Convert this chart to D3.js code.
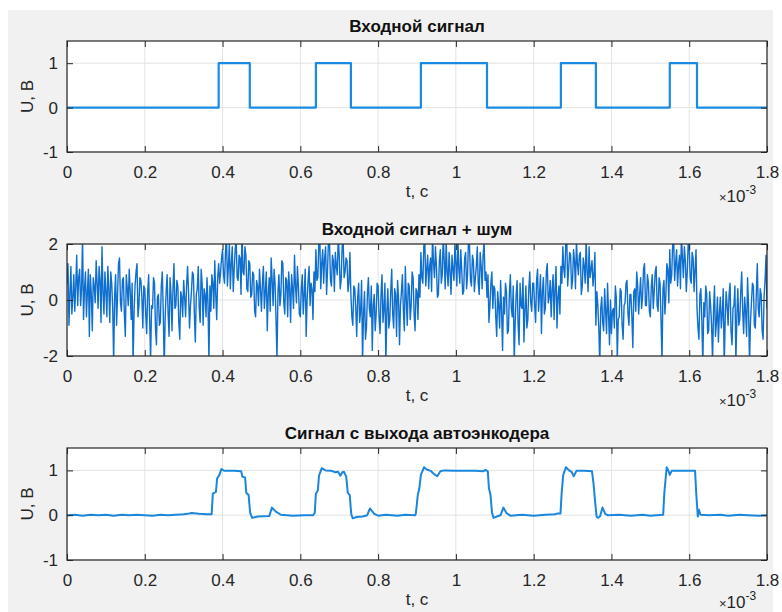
<!DOCTYPE html>
<html>
<head>
<meta charset="utf-8">
<title>Автоэнкодер</title>
<script src="https://cdn.jsdelivr.net/npm/d3@7/dist/d3.min.js"></script>
<style>
  body { margin: 0; background: #fff; }
  svg text { font-family: "Liberation Sans", Arial, sans-serif; }
</style>
</head>
<body>
<script>

var W = 782, H = 612;

// x axis, ms (shown with a x10^-3 multiplier)
var xTicks = [0, 0.2, 0.4, 0.6, 0.8, 1, 1.2, 1.4, 1.6, 1.8];

// input signal: step points
var tIn = [0, 0.39, 0.39, 0.47, 0.47, 0.64, 0.64, 0.73, 0.73, 0.91, 0.91, 1.08, 1.08,
           1.27, 1.27, 1.36, 1.36, 1.55, 1.55, 1.62, 1.62, 1.8];
var uIn = [0, 0, 1, 1, 0, 0, 1, 1, 0, 0, 1, 1, 0, 0, 1, 1, 0, 0, 1, 1, 0, 0];

// input + noise, one sample every 0.0025 ms (values read by eye, 40 per 0.1 ms)
var noiseStep = 0.0025;
var uNoisy = [
  0.6, 1.3, -0.9, 0.2, 1.2, -0.5, 0.1, 0.9, -0.4, 0.5,  1.6, -0.2, 0.8, 1.1, -0.2, 0.4, 2.3, -0.7, 0.4, 1.0,
  -0.6, 0.3, 1.1, -1.3, 0.9, 0.2, -1.1, 0.8, 0.5, -0.1,  1.4, 0.6, -0.3, 1.2, 0.7, -0.8, 1.9, 0.3, -0.5, 1.0,

  0.3, -0.6, 1.2, 0.4, -0.8, 1.0, 0.6, -0.3, -2.2, 0.2,  0.9, -0.9, 0.2, 1.3, 1.5, -0.1, -0.4, 0.7, 0.8, -0.5,
  -1.3, 0.9, 0.4, -0.2, 1.1, 0.3, -0.7, 0.6, -2.3, -0.4,  0.5, 1.0, 1.3, -0.6, -0.2, 0.8, 0.7, 0.1, -1.0, 0.5,

  0.4, -0.5, -1.2, 0.3, 0.9, -0.7, -2.1, -0.2, -0.3, 0.8,  0.6, -1.0, -1.6, 0.1, 0.2, -0.9, -0.8, 0.5, 1.0, -0.4,
  -2.4, -0.6, 0.3, 0.9, -0.5, -1.3, 0.8, 0.2, -1.1, 0.4,  1.3, -0.3, -0.2, 0.7, 0.5, -0.8, -1.4, 0.3, 0.1, -0.6,

  0.7, 0.1, -0.6, 0.5, 1.2, 0.3, -1.0, -0.2, 0.3, 1.0,  0.9, -0.5, -1.5, 0.2, 0.4, 1.2, -0.3, -0.8, 1.1, 0.6,
  -0.9, 0.4, 0.2, -0.6, 0.8, -0.1, -2.2, 0.5, -0.4, 0.9,  0.6, -0.3, 1.4, 0.2, -0.7, 0.8, 1.3, 0.6, 1.0, 1.5,

  1.8, 0.9, 0.6, 1.7, 2.4, 0.5, 1.2, 2.0, 0.4, 1.3,  1.9, 0.3, 1.1, 1.8, 2.2, 0.8, 0.7, 1.6, 1.5, 0.2,
  2.5, 1.0, 0.9, 1.9, 1.6, 0.4, 0.3, 1.4, 1.3, 0.1,  0.2, 1.0, 0.9, -0.4, -0.6, 0.7, 0.5, -0.2, 1.1, 0.4,

  -0.4, 0.6, 1.2, -0.3, 0.3, 1.0, -1.1, 0.2, 0.8, -0.4,  1.5, 0.7, -0.2, 1.1, 0.6, -0.7, -2.1, 0.3, 0.9, -0.2,
  0.2, 1.4, 1.3, -0.1, -0.5, 0.8, 0.7, -0.6, 1.0, 0.4,  -0.8, 0.9, 0.4, -0.3, 1.6, 0.5, -0.1, 1.2, 0.5, -0.5,

  -0.6, 0.4, 0.9, -0.5, 0.2, 1.1, -1.3, 0.0, 0.7, 1.2,  -0.2, 0.6, 0.4, -0.7, 1.0, 0.3, 1.8, 0.7, 0.8, 2.0,
  2.3, 0.4, 1.3, 1.8, 0.6, 1.5, 1.9, 0.2, 1.1, 2.2,  2.1, 0.7, 0.5, 1.6, 1.4, 0.3, 1.7, 1.2, 0.9, 2.3,

  1.6, 0.4, 0.7, 1.9, 2.2, 0.8, 1.0, 1.5, 1.4, 0.3,  0.6, 1.7, 0.2, -0.6, -0.9, 0.5, 0.4, -0.3, -1.3, 0.1,
  0.6, -0.8, -0.4, 0.7, -2.2, -0.5, 0.3, -1.4, -1.0, 0.2,  0.8, -0.3, -0.6, 0.5, -1.8, -0.2, 0.2, -1.1, -0.5, 0.6,

  0.5, -0.6, -1.2, 0.2, 0.9, -0.8, -0.3, 0.6, -2.3, -0.4,  0.4, -1.0, -0.7, 0.3, 1.1, -0.5, -1.0, 0.4, 0.2, -1.3,
  0.7, 0.1, -1.6, -0.2, 0.3, 0.9, -0.4, -1.1, 1.2, 0.0,  -0.9, 0.6, 0.5, -0.7, -0.2, 1.0, 0.8, -0.5, -1.1, 0.4,

  0.3, -0.7, 0.9, 0.1, 1.7, 0.8, 0.6, 1.9, 2.2, 0.5,  1.1, 1.6, 0.4, 1.2, 1.5, 0.3, 2.4, 1.3, 0.8, 1.9,
  1.2, 0.1, 0.2, 1.4, 1.8, 0.6, 0.9, 2.3, 1.4, 0.4,  2.1, 1.0, 0.5, 1.7, 1.0, 0.2, 1.6, 1.1, 0.7, 2.0,

  1.3, 0.5, 2.3, 1.1, 0.6, 1.8, 1.1, 0.2, 0.3, 1.5,  1.7, 0.4, 0.9, 2.2, 2.0, 0.7, 0.5, 1.6, 1.4, 0.3,
  0.8, 1.2, 1.9, 0.6, 0.2, 1.7, 1.2, 0.4, 1.6, 2.1,  0.7, 1.0, 0.1, 0.9, -0.8, -0.2, 0.6, 1.0, -0.3, 0.5,

  0.4, -0.6, -1.3, 0.3, -0.2, -1.0, 0.7, -0.4, -1.8, 0.1,  -0.5, 0.6, 0.3, -1.2, -1.1, 0.2, 0.9, -0.3, -0.6, 0.5,
  -2.2, -0.8, 0.2, 0.7, -0.9, -1.6, 0.6, -0.2, -0.3, 0.8,  -1.5, -0.4, 0.5, -1.0, -0.7, 0.4, 1.0, -0.1, -0.4, 0.6,

  0.6, -0.2, -0.8, 0.7, 1.1, -0.4, 0.2, 0.9, -1.2, 0.3,  0.8, -0.5, -0.3, 1.0, 1.3, -0.1, 0.1, 0.7, -0.6, 0.4,
  0.9, -0.7, 0.4, 1.2, -1.0, 0.1, 0.5, -0.5, 1.2, 0.6,  1.9, 1.1, 0.8, 2.0, 2.3, 0.5, 1.1, 1.7, 1.6, 0.4,

  0.7, 1.8, 1.4, 0.4, 2.1, 1.3, 0.9, 1.6, 1.7, 0.2,  0.5, 1.5, 1.2, 0.6, 2.2, 1.0, 0.3, 1.9, 0.8, 1.1,
  1.4, 0.5, 0.9, 1.7, -0.9, 0.3, -0.2, -1.0, -2.3, -0.3,  0.1, -0.8, -1.1, 0.4, -0.4, -1.2, 0.6, -0.5, -1.6, 0.0,

  -1.2, -0.4, -0.3, -1.0, 0.5, 0.1, -2.1, -0.7, -0.6, 0.4,  0.3, -0.9, -1.4, -0.2, -0.1, 0.6, 0.7, -0.5, -0.9, 0.2,
  0.2, -0.6, -1.7, 0.3, 0.4, -0.4, 1.0, 0.5, -0.5, 0.2,  0.8, -0.3, 0.1, 1.1, 1.3, -0.2, -0.2, 0.9, 0.6, -0.4,

  -0.6, 0.5, 0.9, -0.3, 0.3, 1.0, 1.2, -0.2, -0.4, 0.8,  0.6, -0.7, -2.2, 0.4, 0.7, -0.5, 0.2, 1.3, 1.1, -0.1,
  1.8, 0.6, 0.9, 2.0, 2.2, 0.7, 1.3, 1.8, 0.5, 1.2,  1.6, 0.4, 2.4, 1.5, 0.8, 1.9, 1.4, 0.3, 1.0, 2.1,

  1.9, 0.8, 0.6, 1.7, 1.5, 0.3, 1.1, 1.8, -0.3, -1.0,  -1.4, 0.2, 0.4, -0.8, -2.3, -0.1, -0.6, 0.5, 0.2, -1.2,
  -1.1, 0.3, -0.2, -0.9, -2.2, -0.4, 0.5, -1.3, -0.8, 0.1,  -1.5, -0.5, 0.1, -1.0, -0.5, 0.4, -2.4, -0.7, 0.3, -0.2,

  -0.9, 0.2, 0.6, -1.1, -1.6, -0.3, -0.2, 0.5, -2.2, -0.6,  0.4, -0.9, -0.7, 0.3, 1.0, -0.4, -1.2, 0.1, -0.4, -1.3,
  0.8, -0.2, -2.3, -0.8, -0.1, 0.6, 0.5, -0.9, -1.0, 0.2,  1.3, -0.3, -0.6, 0.4, 0.2, -1.1, -1.4, 0.1, 0.7, 1.6,

  -0.3
];

// autoencoder output
var tOut = [0, 0.02, 0.04, 0.06, 0.08, 0.1, 0.12, 0.14, 0.16, 0.18, 0.2, 0.22, 0.24, 0.26, 0.28,
  0.3, 0.31, 0.32, 0.34, 0.36, 0.372,
  0.375, 0.383, 0.386, 0.392, 0.397, 0.405, 0.43, 0.448, 0.451, 0.458, 0.461, 0.467, 0.471, 0.476,
  0.49, 0.52, 0.527, 0.537, 0.55, 0.58, 0.61, 0.633,
  0.637, 0.64, 0.645, 0.648, 0.655, 0.665, 0.68, 0.69, 0.697, 0.703, 0.708, 0.712, 0.718, 0.722,
  0.727, 0.731, 0.735, 0.745, 0.76, 0.772, 0.779, 0.79, 0.8, 0.82, 0.85, 0.87, 0.895,
  0.897, 0.902, 0.906, 0.91, 0.918, 0.925, 0.935, 0.945, 0.952, 0.96, 0.97, 1.0, 1.05, 1.07,
  1.076, 1.082, 1.085, 1.089, 1.093, 1.097, 1.105, 1.115, 1.122, 1.13, 1.14, 1.17, 1.2, 1.23, 1.255, 1.262,
  1.269, 1.272, 1.276, 1.283, 1.291, 1.298, 1.303, 1.31, 1.33, 1.35, 1.354, 1.358, 1.362, 1.366,
  1.371, 1.377, 1.384, 1.39, 1.42, 1.45, 1.48, 1.5, 1.533,
  1.536, 1.542, 1.547, 1.55, 1.555, 1.58, 1.615, 1.618, 1.622, 1.625, 1.629, 1.65, 1.68, 1.7, 1.73, 1.75, 1.78, 1.8];
var uOut = [0, 0.01, -0.01, 0.01, 0, 0.01, -0.01, 0.01, 0, 0.01, 0, -0.01, 0.01, 0, 0.01,
  0.02, 0.03, 0.05, 0.03, 0.02, 0.02,
  0.48, 0.52, 0.82, 0.9, 1.03, 0.99, 0.99, 0.98, 0.86, 0.84, 0.5, 0.45, 0.05, -0.06,
  -0.03, -0.02, 0.17, 0.08, 0.01, -0.01, 0, 0,
  0.05, 0.48, 0.55, 0.88, 1.05, 1.0, 0.99, 0.96, 0.97, 0.88, 0.96, 0.97, 0.86, 0.5,
  0.45, 0.02, -0.07, -0.04, -0.03, 0, 0.15, 0.03, -0.01, 0.01, -0.01, 0.01, 0,
  0.03, 0.45, 0.6, 0.9, 1.07, 1.02, 0.99, 0.91, 0.87, 0.98, 1.0, 0.99, 0.99, 0.98,
  1.01, 0.98, 0.6, 0.45, 0.05, -0.06, -0.03, 0, 0.17, 0.05, -0.01, 0.01, -0.01, 0.01, 0.02, 0.04,
  0.04, 0.5, 0.9, 1.07, 1.0, 0.96, 0.87, 0.99, 0.99, 0.98, 0.7, 0.3, -0.04, -0.06,
  -0.02, 0.17, 0.03, 0, 0.01, -0.01, 0.01, -0.01, 0.01,
  0.5, 1.07, 0.98, 0.9, 0.99, 0.99, 0.99, 0.5, -0.03, 0.12, 0.01, 0, 0.01, -0.01, 0.01, 0, -0.01, 0];

var tNoisy = uNoisy.map(function(d, i){ return +(i * noiseStep).toFixed(4); });

var panels = [
  {title: "Входной сигнал", top: 41, bottom: 152, yDomain: [-1, 1.5], yTicks: [-1, 0, 1],
   t: tIn, u: uIn, color: "#1a8ae2", width: 2.2},
  {title: "Входной сигнал + шум", top: 244, bottom: 356, yDomain: [-2, 2], yTicks: [-2, 0, 2],
   t: tNoisy, u: uNoisy, color: "#0f6fcf", width: 1.4},
  {title: "Сигнал с выхода автоэнкодера", top: 448, bottom: 560, yDomain: [-1, 1.5], yTicks: [-1, 0, 1],
   t: tOut, u: uOut, color: "#1a86de", width: 2}
];

var left = 67, right = 767;
var fs = 17;

var svg = d3.select("body").append("svg")
  .attr("width", W)
  .attr("height", H);

svg.append("rect")
  .attr("x", 8).attr("y", 10)
  .attr("width", 765).attr("height", H - 10)
  .attr("fill", "#f1f1f1");

var x = d3.scaleLinear().domain([0, 1.8]).range([left, right]);

panels.forEach(function(p, k){
  var y = d3.scaleLinear().domain(p.yDomain).range([p.bottom, p.top]);
  var g = svg.append("g");

  g.append("rect")
    .attr("x", left).attr("y", p.top)
    .attr("width", right - left).attr("height", p.bottom - p.top)
    .attr("fill", "#fff");

  // grid
  g.selectAll(".gx").data(xTicks).enter().append("line")
    .attr("x1", function(d){ return x(d); }).attr("x2", function(d){ return x(d); })
    .attr("y1", p.top).attr("y2", p.bottom)
    .attr("stroke", "#e3e3e3").attr("stroke-width", 1);
  g.selectAll(".gy").data(p.yTicks).enter().append("line")
    .attr("x1", left).attr("x2", right)
    .attr("y1", function(d){ return y(d); }).attr("y2", function(d){ return y(d); })
    .attr("stroke", "#e3e3e3").attr("stroke-width", 1);

  // data line
  var clipId = "clip" + k;
  g.append("clipPath").attr("id", clipId)
    .append("rect")
    .attr("x", left).attr("y", p.top)
    .attr("width", right - left).attr("height", p.bottom - p.top);

  var line = d3.line()
    .x(function(d){ return x(d[0]); })
    .y(function(d){ return y(d[1]); });

  g.append("path")
    .datum(d3.zip(p.t, p.u))
    .attr("clip-path", "url(#" + clipId + ")")
    .attr("d", line)
    .attr("fill", "none")
    .attr("stroke", p.color)
    .attr("stroke-width", p.width)
    .attr("stroke-linejoin", "round");

  // axes, ticks pointing inward, plain hyphen for minus
  var fmt = function(d){ return String(d); };
  var xb = g.append("g").attr("transform", "translate(0," + p.bottom + ")")
    .call(d3.axisBottom(x).tickValues(xTicks).tickSize(-6).tickPadding(14).tickFormat(fmt));
  var xt = g.append("g").attr("transform", "translate(0," + p.top + ")")
    .call(d3.axisTop(x).tickValues(xTicks).tickSize(-6).tickFormat(""));
  var yl = g.append("g").attr("transform", "translate(" + left + ",0)")
    .call(d3.axisLeft(y).tickValues(p.yTicks).tickSize(-6).tickPadding(9).tickFormat(fmt));
  var yr = g.append("g").attr("transform", "translate(" + right + ",0)")
    .call(d3.axisRight(y).tickValues(p.yTicks).tickSize(-6).tickFormat(""));

  [xb, xt, yl, yr].forEach(function(a){
    a.select(".domain").remove();
    a.selectAll(".tick line").attr("stroke", "#262626");
    a.selectAll("text").attr("font-size", fs).attr("fill", "#262626")
      .attr("font-family", "Liberation Sans, Arial, sans-serif");
  });

  g.append("rect")
    .attr("x", left).attr("y", p.top)
    .attr("width", right - left).attr("height", p.bottom - p.top)
    .attr("fill", "none").attr("stroke", "#262626").attr("stroke-width", 1.2);

  // labels
  g.append("text")
    .attr("x", (left + right) / 2).attr("y", p.top - 9)
    .attr("text-anchor", "middle")
    .attr("font-size", fs).attr("font-weight", "bold").attr("fill", "#111")
    .text(p.title);

  g.append("text")
    .attr("x", (left + right) / 2).attr("y", p.bottom + 45)
    .attr("text-anchor", "middle")
    .attr("font-size", fs).attr("fill", "#262626")
    .text("t, c");

  g.append("text")
    .attr("transform", "translate(33," + (p.top + p.bottom) / 2 + ") rotate(-90)")
    .attr("text-anchor", "middle")
    .attr("font-size", fs).attr("fill", "#262626")
    .text("U, B");

  var mult = g.append("text")
    .attr("x", 719).attr("y", Math.min(p.bottom + 50, H - 4))
    .attr("font-size", fs).attr("fill", "#262626");
  mult.append("tspan").attr("font-size", 13).text("×");
  mult.append("tspan").text("10");
  mult.append("tspan").attr("dy", -8).attr("font-size", 12).text("-3");
});

</script>
</body>
</html>
